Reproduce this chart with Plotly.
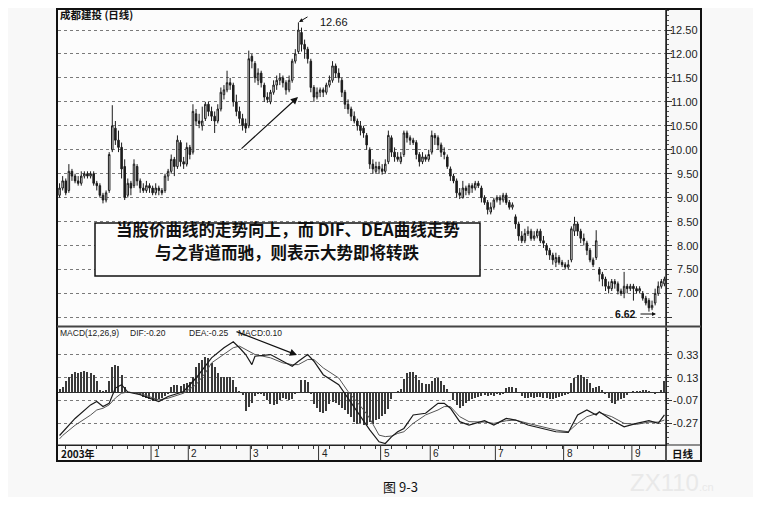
import plotly.graph_objects as go

# the page body keeps an 8 px margin, so the figure is sized to fit inside it
OFF = 8
FW, FH = 745, 489
def fx(px):
    return min(max((px - OFF) / FW, 0.0), 1.0)
def fy(py):
    return min(max(1 - (py - OFF) / FH, 0.0), 1.0)

chart_title = "成都建投 (日线)"

opens = [9.05, 9.20, 9.35, 9.15, 9.55, 9.45, 9.35, 9.30, 9.45, 9.50,
         9.45, 9.50, 9.30, 9.25, 9.05, 8.95, 9.15, 10.00, 10.45, 10.20,
         10.05, 9.65, 9.05, 9.30, 9.25, 9.65, 9.35, 9.20, 9.15, 9.25,
         9.20, 9.10, 9.20, 9.15, 9.15, 9.45, 9.55, 9.80, 9.65, 10.15,
         9.75, 9.70, 10.05, 9.95, 10.75, 10.60, 10.50, 10.65, 10.95, 10.80,
         10.70, 10.60, 10.85, 11.15, 11.25, 11.40, 11.35, 11.00, 10.80, 10.65,
         10.55, 10.50, 11.95, 11.80, 11.45, 11.60, 11.35, 11.10, 11.00, 11.20,
         11.35, 11.45, 11.50, 11.40, 11.25, 11.45, 11.85, 12.05, 12.45, 12.20,
         12.10, 11.85, 11.30, 11.10, 11.20, 11.25, 11.20, 11.35, 11.45, 11.75,
         11.60, 11.45, 11.20, 10.95, 10.85, 10.70, 10.60, 10.50, 10.45, 10.30,
         10.00, 9.70, 9.55, 9.65, 9.60, 9.55, 9.75, 10.25, 9.95, 9.85,
         9.75, 9.90, 10.35, 10.25, 10.20, 10.15, 9.90, 9.75, 9.85, 9.80,
         9.95, 10.30, 10.25, 10.10, 9.95, 9.85, 9.60, 9.45, 9.35, 9.10,
         9.00, 9.20, 9.10, 9.25, 9.20, 9.30, 9.20, 9.00, 8.90, 8.70,
         8.80, 8.95, 9.00, 8.95, 9.05, 8.90, 8.80, 8.60, 8.45, 8.20,
         8.10, 8.25, 8.30, 8.15, 8.20, 8.30, 8.10, 8.00, 7.90, 7.80,
         7.65, 7.75, 7.65, 7.60, 7.55, 7.70, 8.30, 8.45, 8.30, 8.15,
         8.05, 7.90, 7.70, 7.75, 7.50, 7.40, 7.30, 7.15, 7.10, 7.25,
         7.20, 7.05, 7.00, 7.15, 7.10, 7.15, 7.10, 7.05, 7.00, 6.90,
         6.85, 6.70, 6.80, 7.00, 7.15, 7.20]

closes = [9.20, 9.35, 9.10, 9.55, 9.45, 9.35, 9.30, 9.45, 9.50, 9.45,
          9.50, 9.30, 9.25, 9.05, 8.95, 9.10, 9.90, 10.50, 10.20, 10.05,
          9.60, 9.00, 9.30, 9.20, 9.70, 9.35, 9.20, 9.15, 9.25, 9.20,
          9.10, 9.20, 9.15, 9.10, 9.45, 9.55, 9.80, 9.65, 10.20, 9.75,
          9.70, 10.05, 9.90, 10.80, 10.60, 10.55, 10.60, 10.95, 10.80, 10.70,
          10.60, 10.85, 11.20, 11.25, 11.40, 11.35, 11.00, 10.80, 10.65, 10.50,
          10.45, 11.90, 11.85, 11.50, 11.60, 11.40, 11.10, 11.05, 11.20, 11.35,
          11.45, 11.50, 11.40, 11.25, 11.45, 11.85, 12.00, 12.50, 12.20, 12.10,
          11.90, 11.30, 11.10, 11.20, 11.25, 11.20, 11.35, 11.45, 11.75, 11.60,
          11.50, 11.20, 10.95, 10.85, 10.70, 10.60, 10.50, 10.40, 10.35, 10.10,
          9.70, 9.60, 9.65, 9.60, 9.55, 9.70, 10.30, 9.95, 9.85, 9.80,
          9.85, 10.35, 10.25, 10.20, 10.15, 9.90, 9.75, 9.85, 9.80, 9.90,
          10.30, 10.25, 10.10, 9.95, 9.90, 9.65, 9.45, 9.35, 9.10, 9.05,
          9.20, 9.15, 9.25, 9.20, 9.30, 9.25, 9.00, 8.90, 8.75, 8.80,
          8.95, 9.00, 8.95, 9.05, 8.90, 8.80, 8.85, 8.45, 8.20, 8.10,
          8.25, 8.30, 8.15, 8.20, 8.30, 8.10, 8.05, 7.90, 7.80, 7.70,
          7.75, 7.65, 7.60, 7.55, 7.60, 8.35, 8.45, 8.30, 8.15, 8.10,
          7.90, 7.70, 7.60, 8.10, 7.40, 7.30, 7.15, 7.10, 7.25, 7.20,
          7.05, 7.00, 7.15, 7.10, 7.15, 7.10, 7.05, 7.10, 6.90, 6.80,
          6.70, 6.75, 7.00, 7.15, 7.25, 7.30]

highs = [9.30, 9.45, 9.40, 9.70, 9.60, 9.50, 9.45, 9.55, 9.55, 9.55,
         9.55, 9.55, 9.35, 9.30, 9.10, 9.15, 9.95, 10.93, 10.60, 10.40,
         10.15, 9.80, 9.40, 9.35, 9.80, 9.70, 9.40, 9.30, 9.35, 9.30,
         9.25, 9.30, 9.25, 9.20, 9.50, 9.60, 9.90, 9.85, 10.30, 10.20,
         9.85, 10.15, 10.10, 10.95, 10.85, 10.75, 10.90, 11.00, 11.00, 10.90,
         10.80, 10.95, 11.30, 11.35, 11.65, 11.50, 11.40, 11.15, 10.90, 10.75,
         10.65, 12.07, 12.00, 11.85, 11.70, 11.65, 11.40, 11.20, 11.25, 11.45,
         11.55, 11.60, 11.55, 11.45, 11.55, 11.90, 12.10, 12.66, 12.55, 12.30,
         12.15, 11.90, 11.35, 11.30, 11.30, 11.30, 11.40, 11.55, 11.85, 11.80,
         11.70, 11.50, 11.25, 11.05, 10.90, 10.80, 10.65, 10.60, 10.50, 10.35,
         10.05, 9.80, 9.75, 9.75, 9.70, 9.80, 10.40, 10.30, 10.05, 9.95,
         9.95, 10.40, 10.40, 10.30, 10.25, 10.20, 9.95, 9.95, 9.90, 10.00,
         10.40, 10.35, 10.30, 10.15, 10.05, 9.90, 9.65, 9.50, 9.40, 9.20,
         9.35, 9.25, 9.30, 9.30, 9.35, 9.35, 9.25, 9.05, 8.95, 8.90,
         9.00, 9.05, 9.05, 9.10, 9.10, 8.95, 8.90, 8.65, 8.50, 8.30,
         8.35, 8.40, 8.35, 8.30, 8.35, 8.35, 8.20, 8.05, 7.95, 7.85,
         7.85, 7.80, 7.70, 7.65, 7.70, 8.40, 8.60, 8.50, 8.35, 8.25,
         8.10, 7.95, 7.75, 8.32, 7.55, 7.45, 7.35, 7.25, 7.30, 7.30,
         7.25, 7.10, 7.45, 7.20, 7.20, 7.20, 7.15, 7.15, 7.05, 6.95,
         6.90, 6.85, 7.10, 7.25, 7.30, 7.35]

lows = [9.00, 9.15, 9.05, 9.10, 9.35, 9.30, 9.25, 9.25, 9.40, 9.40,
        9.40, 9.25, 9.15, 9.00, 8.88, 8.90, 9.10, 9.95, 10.10, 9.95,
        9.40, 8.95, 9.00, 9.05, 9.20, 9.25, 9.10, 9.10, 9.10, 9.10,
        9.05, 9.05, 9.05, 9.05, 9.10, 9.35, 9.50, 9.45, 9.60, 9.65,
        9.60, 9.65, 9.80, 9.90, 10.50, 10.45, 10.40, 10.60, 10.70, 10.60,
        10.35, 10.55, 10.80, 11.05, 11.20, 11.25, 10.90, 10.70, 10.55, 10.40,
        10.35, 10.45, 11.70, 11.40, 11.35, 11.30, 11.00, 10.98, 10.95, 11.15,
        11.25, 11.35, 11.30, 11.15, 11.20, 11.40, 11.80, 12.00, 12.05, 11.90,
        11.80, 11.20, 11.00, 11.05, 11.10, 11.10, 11.15, 11.30, 11.40, 11.50,
        11.40, 11.10, 10.85, 10.75, 10.60, 10.55, 10.40, 10.30, 10.25, 10.00,
        9.60, 9.50, 9.50, 9.50, 9.48, 9.50, 9.70, 9.85, 9.75, 9.75,
        9.70, 9.85, 10.15, 10.10, 10.10, 9.80, 9.65, 9.70, 9.75, 9.75,
        9.90, 10.10, 10.00, 9.85, 9.80, 9.60, 9.35, 9.30, 9.00, 8.97,
        8.98, 9.05, 9.05, 9.10, 9.15, 9.20, 8.90, 8.85, 8.65, 8.65,
        8.75, 8.90, 8.85, 8.90, 8.85, 8.75, 8.75, 8.35, 8.10, 8.05,
        8.05, 8.20, 8.10, 8.10, 8.15, 8.05, 7.95, 7.80, 7.70, 7.60,
        7.55, 7.60, 7.55, 7.50, 7.50, 7.65, 8.20, 8.20, 8.05, 8.00,
        7.80, 7.65, 7.55, 7.70, 7.25, 7.15, 7.05, 7.00, 7.05, 7.10,
        6.98, 6.95, 6.90, 7.00, 7.05, 6.85, 7.00, 7.00, 6.85, 6.75,
        6.62, 6.65, 6.75, 6.95, 7.10, 7.15]

macd_hist = [0.03, 0.05, 0.10, 0.14, 0.16, 0.18, 0.17, 0.18, 0.19, 0.18,
             0.17, 0.15, 0.10, 0.02, 0.01, 0.02, 0.10, 0.22, 0.24, 0.23,
             0.15, 0.05, 0.00, 0.00, -0.005, -0.01, -0.025, -0.04, -0.05, -0.06,
             -0.08, -0.08, -0.06, -0.045, -0.03, -0.01, 0.05, 0.065, 0.065, 0.06,
             0.07, 0.08, 0.09, 0.14, 0.22, 0.26, 0.29, 0.31, 0.30, 0.26,
             0.22, 0.17, 0.14, 0.14, 0.14, 0.14, 0.11, 0.05, 0.005, -0.02,
             -0.16, -0.13, -0.09, -0.03, -0.01, -0.01, -0.03, -0.07, -0.10, -0.11,
             -0.10, -0.07, -0.045, -0.055, -0.068, -0.055, -0.01, 0.00, 0.11, 0.11,
             0.09, -0.01, -0.10, -0.14, -0.17, -0.18, -0.16, -0.10, -0.085, -0.095,
             -0.11, -0.14, -0.155, -0.19, -0.22, -0.26, -0.28, -0.27, -0.29, -0.29,
             -0.265, -0.275, -0.245, -0.235, -0.21, -0.19, -0.15, -0.06, 0.00, 0.01,
             0.03, 0.12, 0.17, 0.18, 0.18, 0.15, 0.11, 0.08, 0.07, 0.07,
             0.10, 0.125, 0.13, 0.10, 0.065, 0.03, 0.00, -0.07, -0.11, -0.14,
             -0.12, -0.095, -0.075, -0.06, -0.05, -0.04, -0.03, -0.02, -0.035, -0.02,
             -0.03, -0.015, -0.02, -0.01, 0.04, 0.045, 0.045, 0.04, 0.00, -0.03,
             -0.05, -0.05, -0.04, -0.045, -0.04, -0.04, -0.05, -0.05, -0.055, -0.06,
             -0.05, -0.04, -0.035, -0.025, -0.01, 0.08, 0.13, 0.15, 0.15, 0.14,
             0.12, 0.08, 0.04, 0.05, 0.06, 0.02, -0.01, -0.05, -0.09, -0.10,
             -0.07, -0.055, -0.045, -0.025, -0.005, 0.005, 0.01, 0.015, 0.02, 0.02,
             0.015, 0.00, -0.01, 0.00, 0.02, 0.10]

line_idx = [0, 1, 5, 10, 12, 14, 16, 18, 20, 22, 26, 29, 32, 35, 40, 44, 47, 49, 53, 56,
            58, 60, 62, 63, 68, 72, 75, 77, 80, 82, 85, 90, 93, 96, 97, 99, 100, 103, 105, 107,
            109, 111, 114, 118, 122, 124, 126, 129, 132, 137, 140, 144, 147, 151, 156, 160, 164, 167, 170, 173,
            174, 178, 182, 186, 190, 193, 195]
dif = [-0.38, -0.35, -0.23, -0.11, -0.08, -0.125, -0.096, 0.038, 0.068, 0.003, -0.021, -0.051, -0.081, -0.036, 0.008, 0.127, 0.230, 0.305, 0.394, 0.447,
       0.394, 0.334, 0.245, 0.319, 0.334, 0.275, 0.230, 0.275, 0.334, 0.275, 0.156, 0.068, -0.051, -0.170, -0.21, -0.29, -0.33, -0.436, -0.451, -0.392,
       -0.347, -0.318, -0.199, -0.184, -0.096, -0.096, -0.140, -0.258, -0.288, -0.250, -0.288, -0.229, -0.244, -0.288, -0.318, -0.347, -0.353, -0.199, -0.155, -0.199,
       -0.170, -0.244, -0.303, -0.273, -0.250, -0.273, -0.199]
dea = [-0.41, -0.38, -0.29, -0.20, -0.155, -0.14, -0.11, -0.05, -0.007, 0.003, -0.01, -0.036, -0.066, -0.051, -0.007, 0.068, 0.171, 0.260, 0.334, 0.394,
       0.408, 0.379, 0.349, 0.334, 0.305, 0.260, 0.245, 0.245, 0.290, 0.290, 0.216, 0.127, 0.008, -0.081, -0.12, -0.19, -0.23, -0.377, -0.39, -0.385,
       -0.362, -0.347, -0.273, -0.199, -0.155, -0.125, -0.125, -0.214, -0.258, -0.262, -0.273, -0.250, -0.244, -0.273, -0.303, -0.332, -0.347, -0.273, -0.214, -0.184,
       -0.178, -0.214, -0.273, -0.282, -0.262, -0.262, -0.244]

price_grid = [6.5, 7.0, 7.5, 8.0, 8.5, 9.0, 9.5, 10.0, 10.5, 11.0, 11.5, 12.0, 12.5]
price_labels = ["", "7.00", "7.50", "8.00", "8.50", "9.00", "9.50", "10.00", "10.50",
                "11.00", "11.50", "12.00", "12.50"]
macd_ticks = [0.33, 0.13, -0.07, -0.27]
macd_labels = ["0.33", "0.13", "-0.07", "-0.27"]
month_idx = [30, 42, 62, 84, 104, 120, 141, 163, 185]
month_labels = ["1", "2", "3", "4", "5", "6", "7", "8", "9"]
year_label = "2003年"
period_label = "日线"
macd_info = ["MACD(12,26,9)", "DIF:-0.20", "DEA:-0.25", "MACD:0.10"]
note_line1 = "当股价曲线的走势向上，而 DIF、DEA曲线走势"
note_line2 = "与之背道而驰，则表示大势即将转跌"
high_label = "12.66"
low_label = "6.62"
caption = "图 9-3"

n = len(closes)
bar_idx = list(range(n))
week_ticks = list(range(2, n, 5))

DARK = "#1c1c1c"
AX_FONT = dict(family="Liberation Sans, Arial", size=11, color="#222")

fig = go.Figure()
fig.add_trace(go.Candlestick(
    x=bar_idx, open=opens, high=highs, low=lows, close=closes,
    increasing=dict(line=dict(color=DARK, width=1), fillcolor="#fbfbfb"),
    decreasing=dict(line=dict(color=DARK, width=1), fillcolor=DARK),
    whiskerwidth=0, xaxis="x", yaxis="y", showlegend=False, hoverinfo="skip"))
fig.add_trace(go.Bar(x=bar_idx, y=macd_hist, width=0.34, marker=dict(color="#3a3a3a", line=dict(width=0)),
                     xaxis="x2", yaxis="y2", showlegend=False, hoverinfo="skip"))
fig.add_trace(go.Scatter(x=line_idx, y=dea, mode="lines", line=dict(color="#555", width=1),
                         xaxis="x2", yaxis="y2", showlegend=False, hoverinfo="skip"))
fig.add_trace(go.Scatter(x=line_idx, y=dif, mode="lines", line=dict(color="#1a1a1a", width=1.2),
                         xaxis="x2", yaxis="y2", showlegend=False, hoverinfo="skip"))

x_dom = [fx(58), fx(666)]
xr = [-0.5, n - 0.5]
fig.update_layout(
    width=FW, height=FH, autosize=False,
    margin=dict(l=0, r=0, t=0, b=0),
    paper_bgcolor="#f8f8f8", plot_bgcolor="#fcfcfc",
    showlegend=False, bargap=0,
    xaxis=dict(domain=x_dom, range=xr, anchor="y", showticklabels=False, showgrid=False,
               zeroline=False, ticks="", rangeslider=dict(visible=False), fixedrange=True),
    yaxis=dict(domain=[fy(326), fy(8.5)], range=[6.320, 12.949], side="right", anchor="x",
               tickmode="array", tickvals=price_grid, showticklabels=False,
               ticks="outside", ticklen=5, tickcolor="#333",
               showgrid=True, griddash="dot", gridcolor="#7a7a7a", gridwidth=1,
               minor=dict(tick0=0, dtick=0.1, ticks="outside", ticklen=2, tickcolor="#555", showgrid=False),
               zeroline=False, showline=True, linecolor="#222", linewidth=1),
    xaxis2=dict(domain=x_dom, range=xr, anchor="y2", showticklabels=False, showgrid=False,
                zeroline=False, tickmode="array", tickvals=week_ticks, ticks="outside",
                ticklen=3, tickcolor="#333", showline=True, linecolor="#222", linewidth=1),
    yaxis2=dict(domain=[fy(445), fy(328)], range=[-0.464, 0.568], side="right", anchor="x2",
                tickmode="array", tickvals=macd_ticks, showticklabels=False,
                ticks="outside", ticklen=5, tickcolor="#333",
                showgrid=True, griddash="dot", gridcolor="#7a7a7a", gridwidth=1,
                minor=dict(tick0=0, dtick=0.05, ticks="outside", ticklen=2, tickcolor="#555", showgrid=False),
                zeroline=True, zerolinecolor="#333", zerolinewidth=1,
                showline=True, linecolor="#222", linewidth=1),
)

shapes = []
shapes.append(dict(type="rect", xref="paper", yref="paper", x0=fx(57), x1=fx(701), y0=fy(461), y1=fy(9),
                   line=dict(color="#111", width=2), fillcolor="rgba(0,0,0,0)"))
shapes.append(dict(type="line", xref="paper", yref="paper", x0=fx(666), x1=fx(666), y0=fy(461), y1=fy(9),
                   line=dict(color="#222", width=1.5)))
shapes.append(dict(type="line", xref="paper", yref="paper", x0=fx(57), x1=fx(701), y0=fy(326.5), y1=fy(326.5),
                   line=dict(color="#444", width=2)))
shapes.append(dict(type="line", xref="paper", yref="paper", x0=fx(57), x1=fx(701), y0=fy(445), y1=fy(445),
                   line=dict(color="#222", width=1.2)))
for m in month_idx:
    shapes.append(dict(type="line", xref="x2", yref="paper", x0=m - 0.5, x1=m - 0.5, y0=fy(460), y1=fy(445),
                       line=dict(color="#333", width=1)))
shapes.append(dict(type="rect", xref="paper", yref="paper", x0=fx(95), x1=fx(480), y0=fy(276), y1=fy(223),
                   line=dict(color="#111", width=1.5), fillcolor="#fcfcfc", layer="above"))
fig.update_layout(shapes=shapes)

ann = []
ann.append(dict(xref="paper", yref="paper", x=fx(58), y=fy(14), xanchor="left", yanchor="middle",
                text="<b>" + chart_title + "</b>", showarrow=False,
                font=dict(family="Noto Sans CJK SC", size=10.5, color="#111")))
for v, t in zip(price_grid, price_labels):
    if t:
        ann.append(dict(xref="paper", yref="y", x=fx(700), y=v, xanchor="right", yanchor="middle",
                        text=t, showarrow=False, font=AX_FONT))
for v, t in zip(macd_ticks, macd_labels):
    ann.append(dict(xref="paper", yref="y2", x=fx(700), y=v, xanchor="right", yanchor="middle",
                    text=t, showarrow=False, font=AX_FONT))
info_x = [58, 128, 187, 236]
for px_, t in zip(info_x, macd_info):
    ann.append(dict(xref="paper", yref="paper", x=fx(px_), y=fy(333), xanchor="left", yanchor="middle",
                    text=t, showarrow=False, font=dict(family="Liberation Sans, Arial", size=8.5, color="#222")))
for m, t in zip(month_idx, month_labels):
    ann.append(dict(xref="x2", yref="paper", x=m - 0.5, y=fy(453), xanchor="left", yanchor="middle",
                    xshift=1, text=t, showarrow=False, font=dict(family="Liberation Sans, Arial", size=10, color="#222")))
ann.append(dict(xref="paper", yref="paper", x=fx(59), y=fy(453), xanchor="left", yanchor="middle",
                text="<b>" + year_label + "</b>", showarrow=False,
                font=dict(family="Noto Sans CJK SC", size=10, color="#111")))
ann.append(dict(xref="paper", yref="paper", x=fx(683), y=fy(453), xanchor="center", yanchor="middle",
                text="<b>" + period_label + "</b>", showarrow=False,
                font=dict(family="Noto Sans CJK SC", size=10.5, color="#111")))
ann.append(dict(xref="paper", yref="paper", x=fx(288), y=fy(229), xanchor="center", yanchor="middle",
                text="<b>" + note_line1 + "</b>", showarrow=False,
                font=dict(family="Noto Sans CJK SC", size=16.5, color="#111")))
ann.append(dict(xref="paper", yref="paper", x=fx(287), y=fy(252), xanchor="center", yanchor="middle",
                text="<b>" + note_line2 + "</b>", showarrow=False,
                font=dict(family="Noto Sans CJK SC", size=16.5, color="#111")))
ann.append(dict(xref="paper", yref="paper", x=fx(298), y=fy(97), ax=-58, ay=53, text="",
                showarrow=True, arrowhead=2, arrowsize=1.2, arrowwidth=1.2, arrowcolor="#111"))
ann.append(dict(xref="paper", yref="paper", x=fx(297), y=fy(355), ax=-62, ay=-24, text="",
                showarrow=True, arrowhead=2, arrowsize=1.2, arrowwidth=1.2, arrowcolor="#111"))
ann.append(dict(xref="paper", yref="paper", x=fx(299), y=fy(22), ax=10, ay=-6, text="",
                showarrow=True, arrowhead=2, arrowsize=0.8, arrowwidth=1, arrowcolor="#111"))
ann.append(dict(xref="paper", yref="paper", x=fx(318), y=fy(22), xanchor="left", yanchor="middle",
                text=high_label, showarrow=False, font=dict(family="Liberation Sans, Arial", size=11, color="#111")))
ann.append(dict(xref="paper", yref="paper", x=fx(656), y=fy(314), ax=-17, ay=0, text="",
                showarrow=True, arrowhead=2, arrowsize=0.8, arrowwidth=1, arrowcolor="#111"))
ann.append(dict(xref="paper", yref="paper", x=fx(638), y=fy(314), xanchor="right", yanchor="middle",
                text="<b>" + low_label + "</b>", showarrow=False,
                font=dict(family="Liberation Sans, Arial", size=10.5, color="#111")))
ann.append(dict(xref="paper", yref="paper", x=fx(400), y=fy(486), xanchor="center", yanchor="middle",
                text=caption, showarrow=False, font=dict(family="Noto Sans CJK SC", size=13, color="#111")))
ann.append(dict(xref="paper", yref="paper", x=fx(672), y=fy(482), xanchor="center", yanchor="middle",
                text="ZX110<span style='font-size:11px'>.cn</span>", showarrow=False,
                font=dict(family="Liberation Sans, Arial", size=24, color="#e9e9e9")))
fig.update_layout(annotations=ann)

fig.write_html("out.html")
